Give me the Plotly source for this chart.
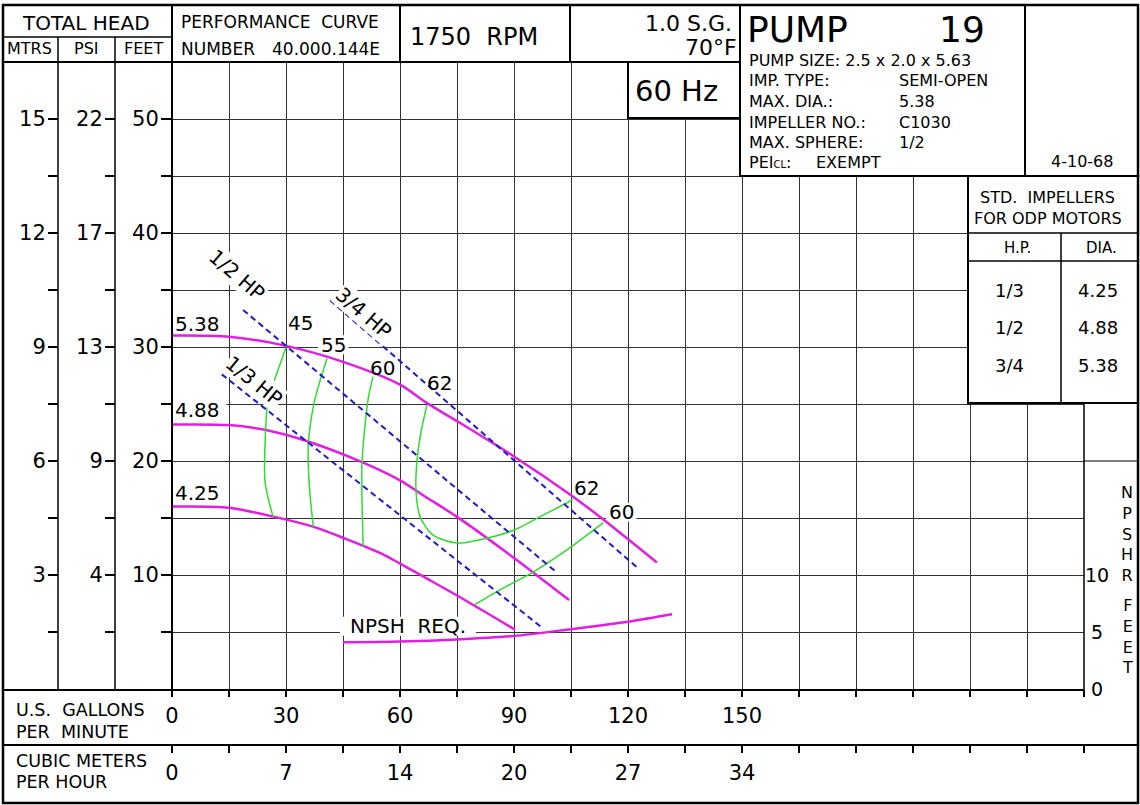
import plotly.graph_objects as go

W, H = 1140, 805
FONT = "DejaVu Sans"
MAGENTA = "#e31ee3"
GREEN = "#2fdc2f"
BLUE = "#1c1cc8"
GRID = "#333333"

# ---------------- data ----------------
GPM_TICKS = list(range(0, 241, 15))
GPM_TEXT = ["0", "", "30", "", "60", "", "90", "", "120", "", "150"] + [""] * 6
M3H_TEXT = ["0", "", "7", "", "14", "", "20", "", "27", "", "34"] + [""] * 6
FEET_TICKS = [5, 10, 15, 20, 25, 30, 35, 40, 45, 50]
FEET_TEXT = ["", "10", "", "20", "", "30", "", "40", "", "50"]
PSI_TEXT = ["", "4", "", "9", "", "13", "", "17", "", "22"]
MTRS_TEXT = ["", "3", "", "6", "", "9", "", "12", "", "15"]
NPSH_TICKS = [0, 5, 10]
NPSH_TEXT = [" 0", " 5", "10"]

# head-capacity curves (GPM, feet)
Q_538 = [0, 15, 30, 45, 60, 67, 75, 90, 105, 113, 127.6]
H_538 = [31.0, 30.9, 30.1, 28.7, 26.7, 25.1, 23.5, 20.4, 17.0, 15.0, 11.1]
Q_488 = [0, 15, 25, 35, 50, 60, 67, 75, 90, 104.5]
H_488 = [23.2, 23.15, 22.7, 21.8, 19.9, 18.3, 16.8, 15.1, 11.5, 7.8]
Q_425 = [0, 15, 27, 37.5, 45.5, 55, 60, 67, 75, 90.3]
H_425 = [16.0, 15.9, 15.1, 14.2, 13.2, 11.9, 11.0, 9.7, 8.2, 5.2]

# NPSH required (GPM, feet)
Q_NPSH = [45, 60, 75, 90, 105, 120, 131.6]
H_NPSH = [4.1, 4.17, 4.35, 4.65, 5.25, 5.9, 6.55]

# efficiency iso-lines (GPM, feet)
Q_E45 = [30, 27.6, 25.3, 24.5, 24.5, 26.6]
H_E45 = [30.0, 27.7, 25.4, 21.6, 18.1, 15.1]
Q_E55 = [40.8, 37.6, 35.9, 36.1, 37.2]
H_E55 = [29.0, 25.4, 21.6, 18.0, 14.2]
Q_E60 = [52.9, 51.6, 50.0, 50.0, 50.3]
H_E60 = [27.4, 25.4, 19.9, 16.6, 12.5]
Q_E62 = [67.1, 65.5, 64.5, 64.2, 65.3, 68.7, 75, 81.1, 89.7, 96.8, 105.5]
H_E62 = [24.9, 22.5, 20.1, 17.5, 15.1, 13.5, 12.8, 13.1, 13.9, 15.1, 16.6]
Q_E60B = [113.5, 104.3, 94.2, 86.3, 79.7]
H_E60B = [14.6, 12.3, 10.1, 8.7, 7.4]

# horsepower lines (GPM, feet)
Q_HP12 = [18.7, 100.8]
H_HP12 = [33.25, 10.35]
Q_HP34 = [41.6, 122.6]
H_HP34 = [34.1, 10.6]
Q_HP13 = [13.1, 97.7]
H_HP13 = [27.6, 5.3]

# standard impeller table
STD_HP = ["1/3", "1/2", "3/4"]
STD_DIA = ["4.25", "4.88", "5.38"]

PUMP_INFO = [
    ("PUMP SIZE: 2.5 x 2.0 x 5.63", None),
    ("IMP. TYPE:", "SEMI-OPEN"),
    ("MAX. DIA.:", "5.38"),
    ("IMPELLER NO.:", "C1030"),
    ("MAX. SPHERE:", "1/2"),
]

# curve labels: text, GPM, feet, angle, mask gridlines behind it
LABELS = [
    ("5.38", 6.84, 32.0, 0, False), ("4.88", 6.84, 24.5, 0, True),
    ("4.25", 6.84, 17.2, 0, False),
    ("45", 33.9, 32.1, 0, False), ("55", 42.4, 30.2, 0, True), ("60", 55.5, 28.2, 0, False),
    ("62", 70.5, 26.8, 0, False), ("62", 109.2, 17.6, 0, False), ("60", 118.2, 15.5, 0, True),
    ("NPSH  REQ.", 62.1, 5.5, 0, True),
    ("1/2 HP", 17.1, 36.3, 41, True), ("3/4 HP", 50.5, 33.0, 41, True),
    ("1/3 HP", 21.6, 27.0, 39, True),
]

# ---------------- helpers ----------------
X_PX = (172, 1084)   # pixel span of the GPM scale
Y_PX = (689, 62)     # pixel span of the feet scale
X_RANGE = (0, 240)
Y_RANGE = (0, 55)
PPU_X = (X_PX[1] - X_PX[0]) / (X_RANGE[1] - X_RANGE[0])
PPU_Y = (Y_PX[0] - Y_PX[1]) / (Y_RANGE[1] - Y_RANGE[0])


def px(x):
    return x / W


def py(y):
    return 1 - y / H


fig = go.Figure()


def curve(q, h, color, width, dash=None, yaxis="y"):
    fig.add_trace(go.Scatter(
        x=q, y=h, mode="lines", yaxis=yaxis,
        line=dict(color=color, width=width, dash=dash, shape="spline", smoothing=0.8),
        hoverinfo="skip", showlegend=False))


for q, h in [(Q_538, H_538), (Q_488, H_488), (Q_425, H_425)]:
    curve(q, h, MAGENTA, 2.5)
curve(Q_NPSH, H_NPSH, MAGENTA, 2.5, yaxis="y4")
for q, h in [(Q_E45, H_E45), (Q_E55, H_E55), (Q_E60, H_E60), (Q_E62, H_E62), (Q_E60B, H_E60B)]:
    curve(q, h, GREEN, 1.5)
for q, h in [(Q_HP12, H_HP12), (Q_HP34, H_HP34), (Q_HP13, H_HP13)]:
    fig.add_trace(go.Scatter(x=q, y=h, mode="lines",
                             line=dict(color=BLUE, width=2, dash="6px,4px"),
                             hoverinfo="skip", showlegend=False))
# anchor traces for the secondary scales
fig.add_trace(go.Scatter(x=[None], y=[None], xaxis="x2", yaxis="y", showlegend=False, hoverinfo="skip"))
fig.add_trace(go.Scatter(x=[None], y=[None], xaxis="x", yaxis="y2", showlegend=False, hoverinfo="skip"))
fig.add_trace(go.Scatter(x=[None], y=[None], xaxis="x", yaxis="y3", showlegend=False, hoverinfo="skip"))

tickfont = dict(family=FONT, size=21, color="black")
common_y = dict(range=list(Y_RANGE), tickmode="array", tickvals=FEET_TICKS, ticks="outside",
                ticklen=10, tickwidth=1.5, tickcolor="black", showline=False,
                zeroline=False, tickfont=tickfont, fixedrange=True, ticklabelstandoff=-2,
                automargin=False)

shapes = []


def rect(x0, y0, x1, y1, fill="white", lw=2):
    shapes.append(dict(type="rect", xref="paper", yref="paper", x0=px(x0), x1=px(x1),
                       y0=py(y1), y1=py(y0), fillcolor=fill,
                       line=dict(color="black", width=lw), layer="above"))


def line(x0, y0, x1, y1, lw=1.5):
    shapes.append(dict(type="line", xref="paper", yref="paper", x0=px(x0), x1=px(x1),
                       y0=py(y0), y1=py(y1), line=dict(color="black", width=lw), layer="above"))


# white patches behind horizontal labels (hide grid, keep curves on top)
for t, q, h, ang, mask in LABELS:
    if mask and ang == 0:
        hw = (0.33 * 20 * len(t) + 2) / PPU_X
        hh = 9.5 / PPU_Y
        shapes.append(dict(type="rect", xref="x", yref="y", x0=q - hw, x1=q + hw,
                           y0=h - hh, y1=h + hh, fillcolor="white",
                           line=dict(width=0), layer="between"))

# header boxes
rect(3, 5, 172, 62)
rect(172, 5, 400, 62)
rect(400, 5, 570, 62)
rect(570, 5, 740, 62)
rect(628, 62, 740, 118)
rect(740, 5, 1025, 176)
rect(1025, 5, 1138, 176)
rect(968, 176, 1138, 403)
line(968, 233, 1138, 233)
line(968, 261, 1138, 261)
line(1061, 233, 1061, 403)
# left columns
line(3, 37, 172, 37)
line(58, 37, 58, 690)
line(115, 37, 115, 690)
line(172, 5, 172, 690, 2)
# bottom section
line(3, 690, 1084, 690, 2)
line(3, 745, 1138, 745, 2)
line(1084, 403, 1084, 690, 1.5)
line(1084, 461, 1138, 461, 1)
# outer frame
shapes.append(dict(type="rect", xref="paper", yref="paper", x0=px(3), x1=px(1138),
                   y0=py(803), y1=py(5), line=dict(color="black", width=2.5), layer="above"))

annotations = []


def txt(text, x, y, size, xanchor="center", yanchor="middle", xref="paper", yref="paper",
        angle=0, bg=None):
    if xref == "paper":
        x = px(x)
    if yref == "paper":
        y = py(y)
    a = dict(text=text, x=x, y=y, xref=xref, yref=yref, showarrow=False,
             xanchor=xanchor, yanchor=yanchor, textangle=angle,
             font=dict(family=FONT, size=size, color="black"), borderpad=0)
    if bg:
        a["bgcolor"] = bg
    annotations.append(a)


# header texts
txt("TOTAL HEAD", 86, 23, 20)
txt("MTRS", 29, 49, 16)
txt("PSI", 86, 49, 16)
txt("FEET", 143, 49, 16)
txt("PERFORMANCE  CURVE", 180, 22, 17, xanchor="left")
txt("NUMBER", 180, 49, 17, xanchor="left")
txt("40.000.144E", 381, 49, 17, xanchor="right")
txt("1750  RPM", 474, 37, 24)
txt("1.0 S.G.", 733, 23, 22, xanchor="right")
txt("70°F", 738, 47, 22, xanchor="right")
txt("60 Hz", 676, 91, 29)
txt("PUMP", 746, 30, 36, xanchor="left")
txt("19", 986, 30, 36, xanchor="right")
rows_y = [60, 80.5, 101, 122, 142.5]
for (lab, val), yy in zip(PUMP_INFO, rows_y):
    txt(lab, 748, yy, 16, xanchor="left")
    if val:
        txt(val, 898, yy, 16, xanchor="left")
txt("PEI<span style='font-size:10px'>CL</span>:", 748, 162.5, 16, xanchor="left")
txt("EXEMPT", 815, 162.5, 16, xanchor="left")
txt("4-10-68", 1082, 162, 16)

# standard impeller table
txt("STD.  IMPELLERS", 1047, 197.5, 16)
txt("FOR ODP MOTORS", 1048, 218, 16)
txt("H.P.", 1017, 248, 15)
txt("DIA.", 1101, 248, 15)
for i, (hp, dia) in enumerate(zip(STD_HP, STD_DIA)):
    yy = 290 + i * 37.7
    txt(hp, 1009, yy, 18)
    txt(dia, 1098, yy, 18)

# NPSHR axis title
txt("N<br>P<br>S<br>H<br>R", 1127, 533.5, 16)
txt("F<br>E<br>E<br>T", 1127, 636.5, 16)

# bottom axis titles
txt("U.S.  GALLONS", 15, 710, 17.5, xanchor="left")
txt("PER  MINUTE", 15, 732, 17.5, xanchor="left")
txt("CUBIC METERS", 15, 761, 17.5, xanchor="left")
txt("PER HOUR", 15, 782, 17.5, xanchor="left")

# curve labels (data coords)
for t, q, h, ang, mask in LABELS:
    txt(t, q, h, 20, xref="x", yref="y", angle=ang,
        bg="white" if (mask and ang != 0) else None)

fig.update_layout(
    width=W, height=H, margin=dict(l=0, r=0, t=0, b=0, pad=0, autoexpand=False),
    paper_bgcolor="white", plot_bgcolor="white",
    showlegend=False,
    xaxis=dict(domain=[px(X_PX[0]), px(X_PX[1])], range=list(X_RANGE), tickmode="array",
               tickvals=GPM_TICKS, ticktext=GPM_TEXT, ticks="outside", ticklen=7,
               tickwidth=1.5, tickcolor="black", showgrid=True, gridcolor=GRID,
               gridwidth=1, showline=False, zeroline=False, tickfont=tickfont,
               fixedrange=True, anchor="y", ticklabelstandoff=1, automargin=False),
    xaxis2=dict(overlaying="x", anchor="free", position=py(745), side="bottom",
                range=list(X_RANGE), tickmode="array", tickvals=GPM_TICKS, ticktext=M3H_TEXT,
                ticks="outside", ticklen=7, tickwidth=1.5, tickcolor="black",
                showgrid=False, showline=False, zeroline=False, tickfont=tickfont,
                fixedrange=True, ticklabelstandoff=2, automargin=False),
    yaxis=dict(domain=[py(Y_PX[0]), py(Y_PX[1])], ticktext=FEET_TEXT, showgrid=True,
               gridcolor=GRID, gridwidth=1, anchor="x", **common_y),
    yaxis2=dict(overlaying="y", anchor="free", position=px(115), side="left",
                ticktext=PSI_TEXT, showgrid=False, **common_y),
    yaxis3=dict(overlaying="y", anchor="free", position=px(58), side="left",
                ticktext=MTRS_TEXT, showgrid=False, **common_y),
    yaxis4=dict(overlaying="y", anchor="x", side="right", range=list(Y_RANGE), tickmode="array",
                tickvals=NPSH_TICKS, ticktext=NPSH_TEXT, ticks="", showgrid=False,
                showline=False, zeroline=False, fixedrange=True, automargin=False,
                tickfont=dict(family=FONT, size=19, color="black")),
    shapes=shapes,
    annotations=annotations,
)

fig.write_html("out.html")
